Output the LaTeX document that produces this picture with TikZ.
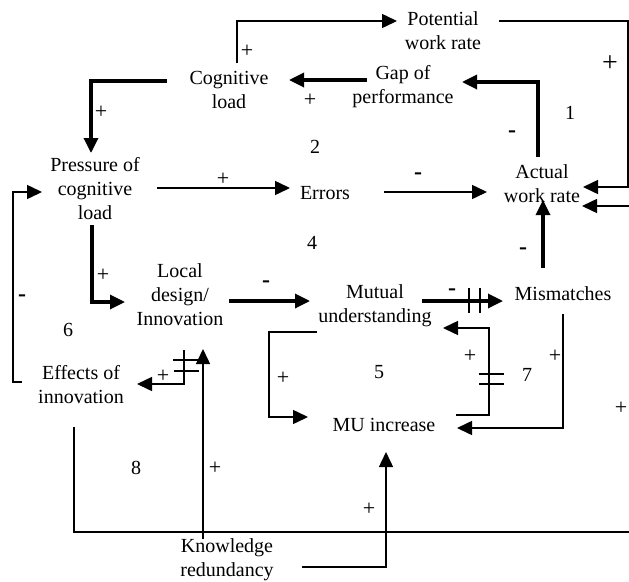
\documentclass[tikz,border=0pt]{standalone}
\usepackage{fontspec}
\setmainfont{Liberation Serif}
\usetikzlibrary{arrows.meta}
\begin{document}
\begin{tikzpicture}[x=1pt,y=-1pt,
  var/.style={align=center, inner sep=0pt, font=\fontsize{20}{24}\selectfont},
  thinlink/.style={line width=1.5pt},
  thicklink/.style={line width=3.3pt},
  tip/.style={-{Triangle[length=15pt,width=14pt]}},
  plussign/.style={inner sep=0pt, font=\fontsize{22}{24}\selectfont},
  bigplus/.style={inner sep=0pt, font=\fontsize{28}{30}\selectfont},
  minussign/.style={inner sep=0pt, font=\fontsize{24}{26}\selectfont\bfseries},
  loopno/.style={inner sep=0pt, font=\fontsize{20}{22}\selectfont},
  delay/.style={line width=1.5pt}]
\useasboundingbox (0,0) rectangle (629,581);

% variables
\node[var] (pot) at (443,31)  {Potential\\work rate};
\node[var] (cog) at (229,90)  {Cognitive\\load};
\node[var] (gap) at (403,87)  {Gap of\\performance};
\node[var] (pres) at (95,189) {Pressure of\\cognitive\\load};
\node[var] (err) at (325,193) {Errors};
\node[var] (act) at (542,184) {Actual\\work rate};
\node[var] (loc) at (180,295) {Local\\design/\\Innovation};
\node[var] (mut) at (375,306) {Mutual\\understanding};
\node[var] (mis) at (563,294) {Mismatches};
\node[var] (eff) at (81,385)  {Effects of\\innovation};
\node[var] (mu)  at (384,425) {MU increase};
\node[var] (kn)  at (227,560) {Knowledge\\redundancy};

% connector end points
\coordinate (cogT) at (237,63);   \coordinate (potW) at (397,21);
\coordinate (potE) at (499,21);   \coordinate (actE1) at (583,187);
\coordinate (edgeR) at (629,206); \coordinate (actE2) at (582,206);
\coordinate (actN) at (538,157);  \coordinate (gapE) at (462,82);
\coordinate (gapW) at (367,80);   \coordinate (cogE) at (289,80);
\coordinate (cogW) at (167,81);   \coordinate (presN) at (91,153);
\coordinate (presE) at (157,188); \coordinate (errW) at (290,188);
\coordinate (errE) at (384,192);  \coordinate (actW) at (487,192);
\coordinate (misN) at (543,268);  \coordinate (actS) at (543,200);
\coordinate (presS) at (92,225);  \coordinate (locW) at (125,302);
\coordinate (locE) at (229,301);  \coordinate (mutW) at (310,301);
\coordinate (mutE) at (422,301);  \coordinate (misW) at (503,301);
\coordinate (muE1) at (456,415);  \coordinate (mutSE) at (443,328);
\coordinate (misS) at (563,314);  \coordinate (muE2) at (457,428);
\coordinate (mutSW) at (317,332); \coordinate (muW) at (308,417);
\coordinate (knN) at (203,539);   \coordinate (locS) at (203,349);
\coordinate (locS2) at (184,350); \coordinate (effE) at (137,384);
\coordinate (effW) at (22,382);   \coordinate (presW) at (42,192);
\coordinate (effS) at (74,427);   \coordinate (edgeB) at (629,532);
\coordinate (knE) at (302,567);   \coordinate (muS) at (386,452);

% links
\draw[thinlink,tip] (cogT) |- (potW);
\draw[thinlink,tip] (potE) -- (628,21) |- (actE1);
\draw[thinlink,tip] (edgeR) -- (actE2);
\draw[thicklink,tip] (actN) |- (gapE);
\draw[thicklink,tip] (gapW) -- (cogE);
\draw[thicklink,tip] (cogW) -| (presN);
\draw[thinlink,tip] (presE) -- (errW);
\draw[thinlink,tip] (errE) -- (actW);
\draw[thicklink,tip] (misN) -- (actS);
\draw[thicklink,tip] (presS) |- (locW);
\draw[thicklink,tip] (locE) -- (mutW);
\draw[thicklink,tip] (mutE) -- (misW);
\draw[thinlink,tip] (muE1) -- (489,415) |- (mutSE);
\draw[thinlink,tip] (misS) |- (muE2);
\draw[thinlink,tip] (mutSW) -- (269,332) |- (muW);
\draw[thinlink,tip] (knN) -- (locS);
\draw[thinlink,tip] (locS2) |- (effE);
\draw[thinlink,tip] (effW) -- (13,382) |- (presW);
\draw[thinlink] (effS) |- (edgeB);
\draw[thinlink,tip] (knE) -| (muS);

% delay marks
\draw[delay] (469,288) -- (469,313) (480,288) -- (480,313);
\draw[delay] (479,374) -- (504,374) (479,384) -- (504,384);
\draw[delay] (173,360) -- (198,360) (174,371) -- (199,371);

% polarities
\node[plussign] (p1) at (247,51) {+};
\node[bigplus] (p2) at (610,64) {+};
\node[minussign] (n1) at (512,134) {-};
\node[plussign] (p3) at (310,100) {+};
\node[plussign] (p4) at (101,112) {+};
\node[plussign] (p5) at (223,179) {+};
\node[minussign] (n2) at (418,176) {-};
\node[minussign] (n3) at (523,251) {-};
\node[plussign] (p6) at (103,275) {+};
\node[minussign] (n4) at (266,284) {-};
\node[minussign] (n5) at (452,292) {-};
\node[minussign] (n6) at (22,298) {-};
\node[plussign] (p7) at (163,376) {+};
\node[plussign] (p8) at (283,378) {+};
\node[plussign] (p9) at (470,356) {+};
\node[plussign] (p10) at (555,356) {+};
\node[plussign] (p11) at (621,408) {+};
\node[plussign] (p12) at (215,468) {+};
\node[plussign] (p13) at (369,509) {+};

% loop numbers
\node[loopno] (l1) at (570,113) {1};
\node[loopno] (l2) at (315,147) {2};
\node[loopno] (l4) at (312,243) {4};
\node[loopno] (l5) at (379,372) {5};
\node[loopno] (l6) at (68,330) {6};
\node[loopno] (l7) at (527,375) {7};
\node[loopno] (l8) at (136,468) {8};
\end{tikzpicture}
\end{document}
